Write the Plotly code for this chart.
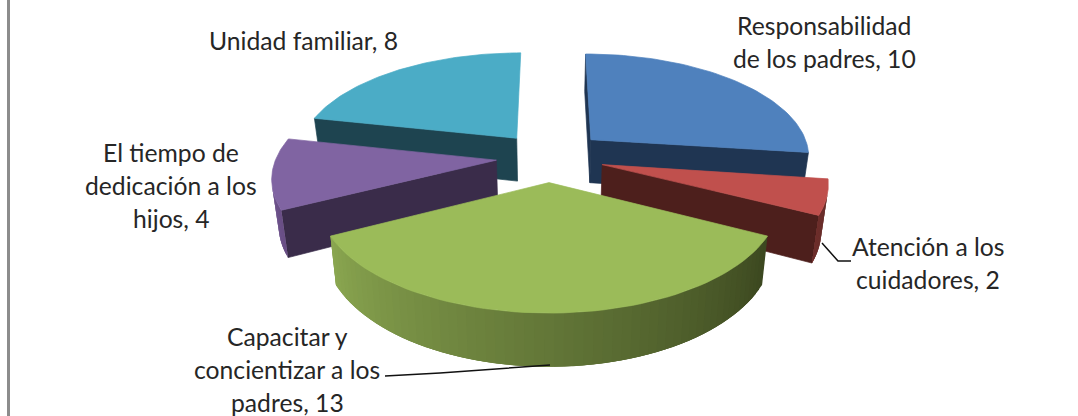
import numpy as np
import plotly.graph_objects as go

##### Data #####

categories = ["Responsabilidad\nde los padres", "Atención a los\ncuidadores", "Capacitar y\nconcientizar a los\npadres",
              "El tiempo de\ndedicación a los\nhijos", "Unidad familiar"]
values = [10, 2, 13, 4, 8]

top_colors = ["#4F81BD", "#C0504D", "#9BBB59", "#8064A2", "#4BACC6"]
side_colors = ["#1F3552", "#4D1F1C", "#3E4A21", "#3A2C4A", "#1E4450"]
rim_light = ["#3F6797", "#6E2E2B", "#8AA650", "#7A5E9C", "#3C8CA2"]
rim_dark = ["#1F3552", "#5E2623", "#3C4820", "#6A4F86", "#2B6C7E"]
pulls = [0.26, 0.25, 0.24, 0.24, 0.24]

label_xy = [(824, 42), (928, 263), (287, 369), (171, 185), (303, 40)]

##### Pie geometry #####

CX, CY = 549, 157
RX, AY = 220, 103
PERSP = 0.1465
DEPTH = 44
SHRINK = 0.025  # the underside is a little narrower than the top


def project(X, Y, lift=0):
    f = 1 / (1 - PERSP * Y)
    return CX + RX * X * f * (1 - SHRINK * lift), CY + AY * Y * f + lift * DEPTH * f


def mix(c1, c2, t):
    a = [int(c1[i:i + 2], 16) for i in (1, 3, 5)]
    b = [int(c2[i:i + 2], 16) for i in (1, 3, 5)]
    return "rgb(%d,%d,%d)" % tuple(p + (q - p) * t for p, q in zip(a, b))


def area(xs, ys):
    return sum(xs[i] * ys[(i + 1) % len(xs)] - xs[(i + 1) % len(xs)] * ys[i] for i in range(len(xs)))


def add_poly(fig, xs, ys, color, width=0.7):
    fig.add_trace(go.Scatter(
        x=list(xs) + [xs[0]], y=list(ys) + [ys[0]],
        mode="lines", fill="toself", fillcolor=color,
        line=dict(color=color, width=width), hoverinfo="skip", showlegend=False
    ))


total = sum(values)
edges = np.deg2rad(np.cumsum([0] + values) / total * 360)

fig = go.Figure()

# back slices first so the front ones paint over them
for i in [4, 0, 3, 1, 2]:
    a0, a1 = edges[i], edges[i + 1]
    mid = (a0 + a1) / 2
    ox, oy = pulls[i] * np.sin(mid), -pulls[i] * np.cos(mid)
    th = np.linspace(a0, a1, 60)
    rx, ry = ox + np.sin(th), oy - np.cos(th)

    # radial faces, the end face only when it is more than a sliver
    for k, sign, min_area in [(0, -1, 0), (-1, 1, 1000)]:
        qx = [ox, rx[k], rx[k], ox]
        qy = [oy, ry[k], ry[k], oy]
        px, py = zip(*[project(x, y, l) for x, y, l in zip(qx, qy, [0, 0, 1, 1])])
        if area(px, py) * sign > min_area:
            add_poly(fig, px, py, side_colors[i])

    # outer wall, shaded along the arc; every piece overlaps the next to hide seams
    for j in range(len(th) - 1):
        e = min(j + 3, len(th) - 1)
        qx = [rx[j], rx[e], rx[e], rx[j]]
        qy = [ry[j], ry[e], ry[e], ry[j]]
        px, py = zip(*[project(x, y, l) for x, y, l in zip(qx, qy, [0, 0, 1, 1])])
        if area(px, py) < 0:
            add_poly(fig, px, py, mix(rim_dark[i], rim_light[i], j / (len(th) - 2)), width=0)

    # top face
    px, py = project(np.r_[ox, rx], np.r_[oy, ry])
    add_poly(fig, list(px), list(py), top_colors[i])

# leader lines
fig.add_trace(go.Scatter(x=[385, 440, 550], y=[376, 373, 365], mode="lines",
                         line=dict(color="#111111", width=1.5), hoverinfo="skip", showlegend=False))
fig.add_trace(go.Scatter(x=[822, 838, 851], y=[243, 261, 261], mode="lines",
                         line=dict(color="#111111", width=1.5), hoverinfo="skip", showlegend=False))

# labels, one annotation per line to keep the wide line spacing
for cat, val, (lx, ly) in zip(categories, values, label_xy):
    lines = f"{cat}, {val}".split("\n")
    for n, line in enumerate(lines):
        fig.add_annotation(x=lx, y=ly + (n - (len(lines) - 1) / 2) * 33, text=line, showarrow=False,
                           xanchor="center", yanchor="middle",
                           font=dict(family="Lato", size=24.7, color="#262626"))

# grey frame edge on the left
fig.add_shape(type="line", x0=8.5, x1=8.5, y0=0, y1=416, line=dict(color="#8C8C8C", width=3))

fig.update_layout(
    width=1078, height=416,
    margin=dict(l=0, r=0, t=0, b=0),
    paper_bgcolor="white", plot_bgcolor="white",
    xaxis=dict(range=[0, 1078], visible=False),
    yaxis=dict(range=[416, 0], visible=False),
    showlegend=False
)

fig.write_html("out.html", config={"displayModeBar": False},
               post_script="document.body.style.margin='0';document.body.style.overflow='hidden';")
